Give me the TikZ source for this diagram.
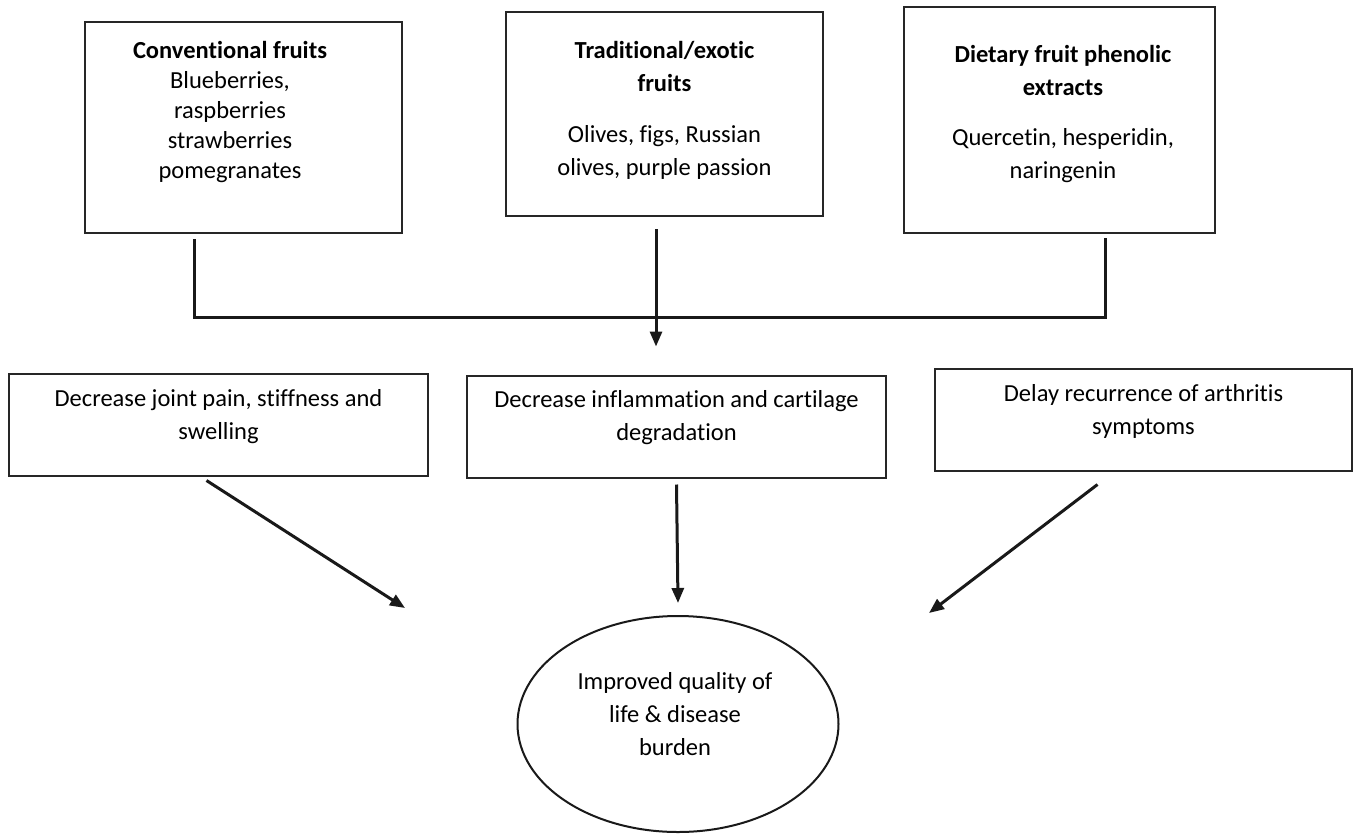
\documentclass[tikz,border=0pt]{standalone}
\usepackage{fontspec}
\setmainfont{Carlito}[Ligatures=CommonOff]
\usetikzlibrary{arrows.meta,shapes.geometric}

\begin{document}
\begin{tikzpicture}[x=0.5pt,y=-0.5pt,>={Triangle[length=7.5pt,width=6pt]}]
        \tikzstyle{fruitbox}=[rectangle,draw=black!85,line width=1pt,minimum width=158.5pt]
        \tikzstyle{effectbox}=[rectangle,draw=black!85,line width=1pt,minimum width=209.5pt,minimum height=51pt]
        \tikzstyle{outcome}=[ellipse,draw=black!90,line width=1pt,minimum width=160.5pt,minimum height=108pt]
        \tikzstyle{boxtext}=[align=center,inner sep=0pt,font=\fontsize{12.25}{16.5}\selectfont]
        \tikzstyle{link}=[draw=black!90,line width=1.5pt]
        \tikzstyle{pointer}=[link,->]

        \useasboundingbox (0,0) rectangle (1360,836);

       \begin{scope}

         % fruit sources
         \node [fruitbox,minimum height=105.5pt] (conv) at (243.5,127.5) {};
         \node [fruitbox,minimum height=102pt] (trad) at (664.5,114) {};
         \node [fruitbox,minimum width=155.5pt,minimum height=113pt] (diet) at (1059.5,120) {};

         \node [boxtext,font=\fontsize{12.25}{15}\selectfont] (convtxt) at ([xshift=-6.75pt,yshift=7.5pt]conv.center)
               {\textbf{Conventional fruits}\\Blueberries,\\raspberries\\strawberries\\pomegranates};
         \node [boxtext] (tradtxt) at ([yshift=2pt]trad.center)
               {\textbf{Traditional/exotic}\\\textbf{fruits}\\[9pt]Olives, figs, Russian\\olives, purple passion};
         \node [boxtext] (diettxt) at ([xshift=1.75pt,yshift=3pt]diet.center)
               {\textbf{Dietary fruit phenolic}\\\textbf{extracts}\\[8.5pt]Quercetin, hesperidin,\\naringenin};

         % effects
         \node [effectbox] (joint) at (218.5,424.5) {};
         \node [effectbox] (inflam) at (676.5,426.5) {};
         \node [effectbox,minimum width=208.5pt] (delay) at (1143.5,419.5) {};

         \node [boxtext] (jointtxt) at ([yshift=4pt]joint.center) {Decrease joint pain, stiffness and\\swelling};
         \node [boxtext] (inflamtxt) at ([yshift=4.25pt]inflam.center) {Decrease inflammation and cartilage\\degradation};
         \node [boxtext] (delaytxt) at ([yshift=4.25pt]delay.center) {Delay recurrence of arthritis\\symptoms};

         % outcome
         \node [outcome] (qol) at (678,724) {};
         \node [boxtext] (qoltxt) at ([xshift=-1.5pt,yshift=4.75pt]qol.center) {Improved quality of\\life \& disease\\burden};

         % connectors
         \coordinate (jl) at (194,317);
         \coordinate (jm) at (656,317);
         \coordinate (jr) at (1105,317);
         \coordinate (tl) at (405,608);
         \coordinate (tr) at (929,613);

         \draw [link] ([yshift=-2.5pt]conv.south -| jl) -- (jl) -- (jr) -- ([yshift=-2pt]diet.south -| jr);
         \draw [pointer] ([yshift=-6pt]trad.south -| jm) -- ([yshift=14pt]inflam.north -| jm);

         \draw [pointer] ([xshift=-6pt,yshift=-2pt]joint.south) -- (tl);
         \draw [pointer] ([yshift=-3pt]inflam.south) -- ([yshift=6pt]qol.north);
         \draw [pointer] ([xshift=-23pt,yshift=-6.5pt]delay.south) -- (tr);

        \end{scope}
      \end{tikzpicture}
\end{document}
